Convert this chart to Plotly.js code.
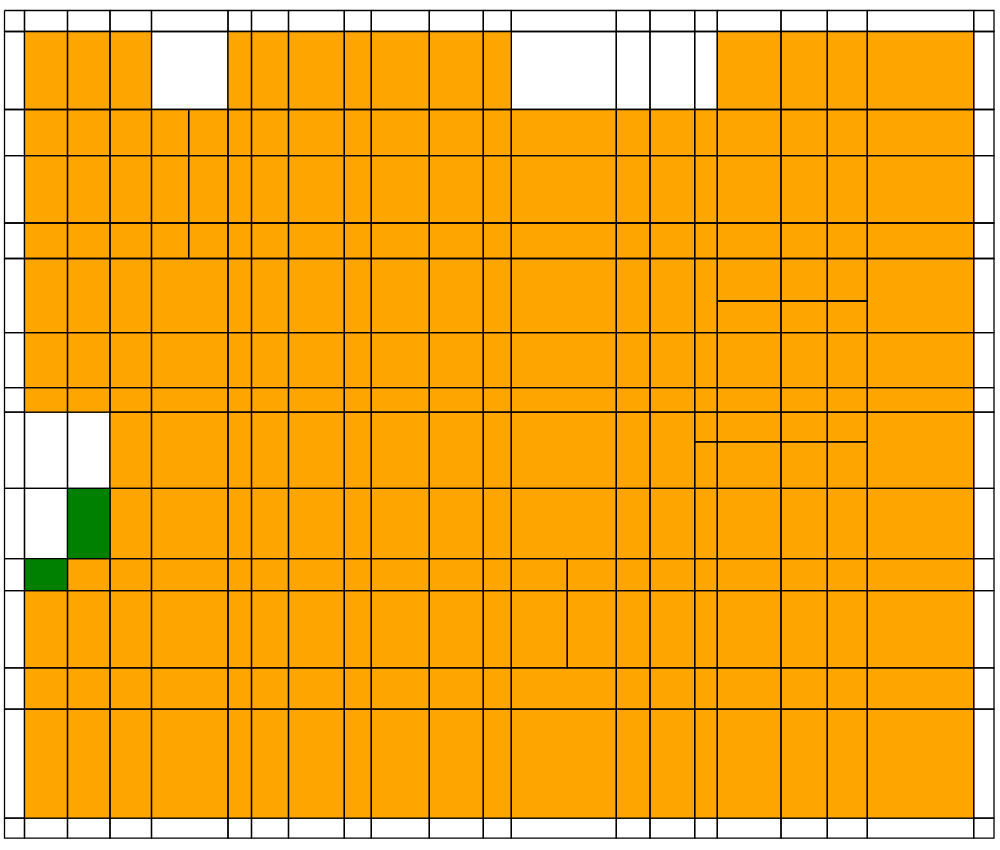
<!DOCTYPE html>
<html>
<head>
<meta charset="utf-8">
<script src="https://cdn.plot.ly/plotly-3.0.1.min.js"></script>
<style>html,body{margin:0;padding:0;background:#fff}#chart{width:1000px;height:850px}</style>
</head>
<body>
<div id="chart"></div>
<script>
// Column widths (left to right) and row heights (top to bottom), in chart units
const colWidths = [20, 43, 42.5, 41.5, 76.5, 23.5, 37, 55.8, 27, 58, 54, 28, 105, 33.7, 44.7, 22.6, 63.7, 46.3, 40, 106.4, 20.3];
const rowHeights = [21, 78, 46.2, 67.3, 35.5, 74.2, 55, 24.5, 76.2, 70.2, 32, 77.3, 41.3, 109, 20];
// Interior cells that are empty (white) and highlighted (green): [row, col]
const whiteCells = [[1,4],[1,12],[1,13],[1,14],[1,15],[8,1],[8,2],[9,1]];
const greenCells = [[9,2],[10,1]];
// Cells split vertically: [row, col, fraction of width]
const vSplits = [[2,4,0.486],[3,4,0.486],[4,4,0.486],[10,12,0.533],[11,12,0.533]];
// Cells split horizontally: [row, col, fraction of height]
const hSplits = [[5,16,0.573],[5,17,0.573],[5,18,0.573],[8,15,0.39],[8,16,0.39],[8,17,0.39],[8,18,0.39]];

const xE = [0]; colWidths.forEach(w => xE.push(xE[xE.length-1] + w));
const yE = [0]; rowHeights.forEach(h => yE.push(yE[yE.length-1] + h));
const nR = rowHeights.length, nC = colWidths.length;
const key = (r,c) => r + ',' + c;
const whiteSet = new Set(whiteCells.map(a => key(a[0],a[1])));
const greenSet = new Set(greenCells.map(a => key(a[0],a[1])));
const vMap = {}; vSplits.forEach(a => vMap[key(a[0],a[1])] = a[2]);
const hMap = {}; hSplits.forEach(a => hMap[key(a[0],a[1])] = a[2]);

const groups = {white:{x:[],y:[]}, orange:{x:[],y:[]}, green:{x:[],y:[]}};
function addRect(g, x0, x1, y0, y1) {
  g.x.push(x0, x1, x1, x0, x0, null);
  g.y.push(y0, y0, y1, y1, y0, null);
}
for (let r = 0; r < nR; r++) {
  for (let c = 0; c < nC; c++) {
    const k = key(r,c);
    let g;
    if (r === 0 || r === nR-1 || c === 0 || c === nC-1 || whiteSet.has(k)) g = groups.white;
    else if (greenSet.has(k)) g = groups.green;
    else g = groups.orange;
    const x0 = xE[c], x1 = xE[c+1], y0 = yE[r], y1 = yE[r+1];
    if (vMap[k] !== undefined) {
      const xm = x0 + (x1 - x0) * vMap[k];
      addRect(g, x0, xm, y0, y1); addRect(g, xm, x1, y0, y1);
    } else if (hMap[k] !== undefined) {
      const ym = y0 + (y1 - y0) * hMap[k];
      addRect(g, x0, x1, y0, ym); addRect(g, x0, x1, ym, y1);
    } else {
      addRect(g, x0, x1, y0, y1);
    }
  }
}
const colors = {white:'#ffffff', orange:'#FFA500', green:'#008000'};
const traces = Object.keys(groups).map(name => ({
  type:'scatter', mode:'lines', x:groups[name].x, y:groups[name].y,
  fill:'toself', fillcolor:colors[name], line:{color:'#000000', width:1.3},
  hoverinfo:'skip', showlegend:false, connectgaps:false
}));
const layout = {
  width:1000, height:850, margin:{l:0,r:0,t:0,b:0},
  paper_bgcolor:'#ffffff', plot_bgcolor:'#ffffff', showlegend:false,
  xaxis:{range:[-4.5, 995.5], visible:false, fixedrange:true},
  yaxis:{range:[839.5, -10.5], visible:false, fixedrange:true}
};
Plotly.newPlot('chart', traces, layout, {displayModeBar:false, staticPlot:true});
</script>
</body>
</html>
